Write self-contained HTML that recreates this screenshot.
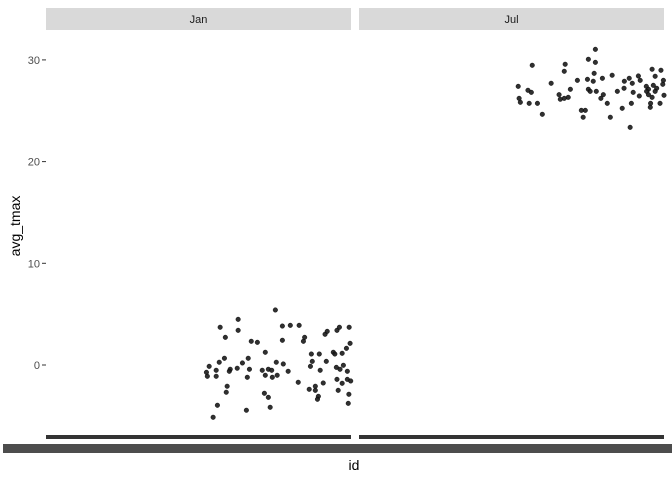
<!DOCTYPE html>
<html><head><meta charset="utf-8"><style>
body{margin:0;background:#fff}
svg{display:block;font-family:"Liberation Sans",sans-serif}
</style></head><body>
<svg id="chart" width="672" height="480">
<rect x="0" y="0" width="672" height="480" fill="#fff"/>
<g id="strips"></g>
<g id="yaxis"></g>
<g id="points"></g>
<rect x="46" y="435" width="305" height="4" fill="#333"/>
<rect x="359" y="435" width="305" height="4" fill="#333"/>
<rect x="3" y="444" width="669" height="9" fill="#4d4d4d"/>
<text x="354" y="470" font-size="14" text-anchor="middle" fill="#000">id</text>
<text x="0" y="0" font-size="14" text-anchor="middle" fill="#000" transform="translate(20,226) rotate(-90)">avg_tmax</text>
</svg>
<script>
const facets = ["Jan","Jul"];
const yTicks = [0,10,20,30];
const janIds = [75.2,63.0,57.1,63.0,77.5,80.1,83.0,58.8,67.3,69.3,77.5,84.4,84.8,91.5,92.2,95.4,96.2,99.4,99.7,71.9,98.5,94.2,94.7,97.1,87.0,89.6,58.5,66.3,56.8,64.4,75.5,77.8,87.3,91.9,53.5,86.7,62.7,60.4,66.7,55.8,60.1,70.9,72.9,74.0,79.4,89.9,95.2,96.4,97.5,98.8,52.6,52.9,55.8,71.9,75.8,74.2,66.0,95.4,98.8,99.9,82.7,90.9,97.1,59.4,88.3,86.3,88.3,95.8,59.1,71.6,99.3,72.9,89.3,89.0,56.2,73.5,65.7,99.1,54.8];
const janTmax = [5.41,4.49,3.71,3.41,3.83,3.90,3.90,2.72,2.33,2.23,2.43,2.33,2.72,3.02,3.31,3.41,3.71,3.71,2.13,1.25,1.64,1.25,1.08,1.15,1.08,1.08,0.66,0.66,0.27,0.20,0.27,0.10,0.36,0.36,-0.13,-0.13,-0.32,-0.42,-0.42,-0.52,-0.62,-0.52,-0.42,-0.52,-0.62,-0.52,-0.23,-0.42,-0.03,-0.62,-0.72,-1.11,-1.11,-1.01,-1.01,-1.21,-1.21,-1.41,-1.41,-1.57,-1.70,-1.77,-1.80,-2.09,-2.09,-2.39,-2.49,-2.49,-2.68,-2.78,-2.88,-3.18,-3.08,-3.37,-3.96,-4.16,-4.45,-3.77,-5.14];
const julIds = [77.5,75.2,77.5,56.8,67.6,67.3,77.1,96.1,99.0,97.1,83.0,91.6,79.8,71.6,74.9,76.8,88.6,87.0,89.6,92.2,99.8,99.6,63.0,52.2,94.2,96.5,69.3,75.2,86.9,94.9,97.6,55.4,56.5,75.8,77.8,84.7,89.9,94.3,97.1,65.6,80.1,91.9,94.9,100,52.5,66.0,67.3,68.6,79.3,96.1,52.9,55.8,58.5,81.4,89.3,95.6,98.7,95.5,86.3,72.9,74.2,60.1,73.5,82.4,88.9];
const julTmax = [31.04,30.06,29.76,29.47,29.57,28.88,28.68,29.08,28.98,28.39,28.49,28.42,28.19,27.99,28.09,27.90,28.19,27.90,27.70,27.99,27.99,27.60,27.70,27.40,27.40,27.50,27.11,27.11,27.21,27.11,27.21,27.01,26.81,26.91,26.91,26.91,26.81,26.91,26.91,26.58,26.58,26.45,26.58,26.52,26.22,26.13,26.22,26.32,26.22,26.32,25.83,25.73,25.73,25.73,25.73,25.73,25.73,25.34,25.24,25.04,25.04,24.65,24.36,24.36,23.37];

{
const NS="http://www.w3.org/2000/svg";
const panelX=[46,359], panelW=305;
function yScale(v){return 365 - v*10.17;}
function xScale(p,id){return panelX[p] + id*panelW/100;}
function mk(t,a){const e=document.createElementNS(NS,t);for(const k in a)e.setAttribute(k,a[k]);return e;}

const strips=document.getElementById('strips');
facets.forEach((f,i)=>{
  const r=mk('rect',{x:panelX[i],y:8,width:panelW,height:22,fill:'#d9d9d9'});
  
  
  strips.appendChild(r);
  const t=mk('text',{x:panelX[i]+panelW/2,y:23,'font-size':11,'text-anchor':'middle',fill:'#1a1a1a'});
  t.textContent=f;
  
  
  strips.appendChild(t);
});
const ya=document.getElementById('yaxis');
yTicks.forEach(v=>{
  const t=mk('text',{x:40,y:yScale(v)+4,'font-size':11,'text-anchor':'end',fill:'#4d4d4d'});
  t.textContent=v;
  
  
  ya.appendChild(t);
  const l=mk('line',{x1:42,x2:46,y1:yScale(v),y2:yScale(v),stroke:'#333','stroke-width':1});
  
  
  ya.appendChild(l);
});
const pts=document.getElementById('points');
[[janIds,janTmax],[julIds,julTmax]].forEach((s,p)=>{
  s[0].forEach((id,i)=>{
    const c=mk('circle',{cx:xScale(p,id),cy:yScale(s[1][i]),r:2.3,fill:'#1a1a1a','fill-opacity':0.9,stroke:'#000','stroke-width':0.4});
    
    
    pts.appendChild(c);
  });
});
}
</script>
</body></html>
